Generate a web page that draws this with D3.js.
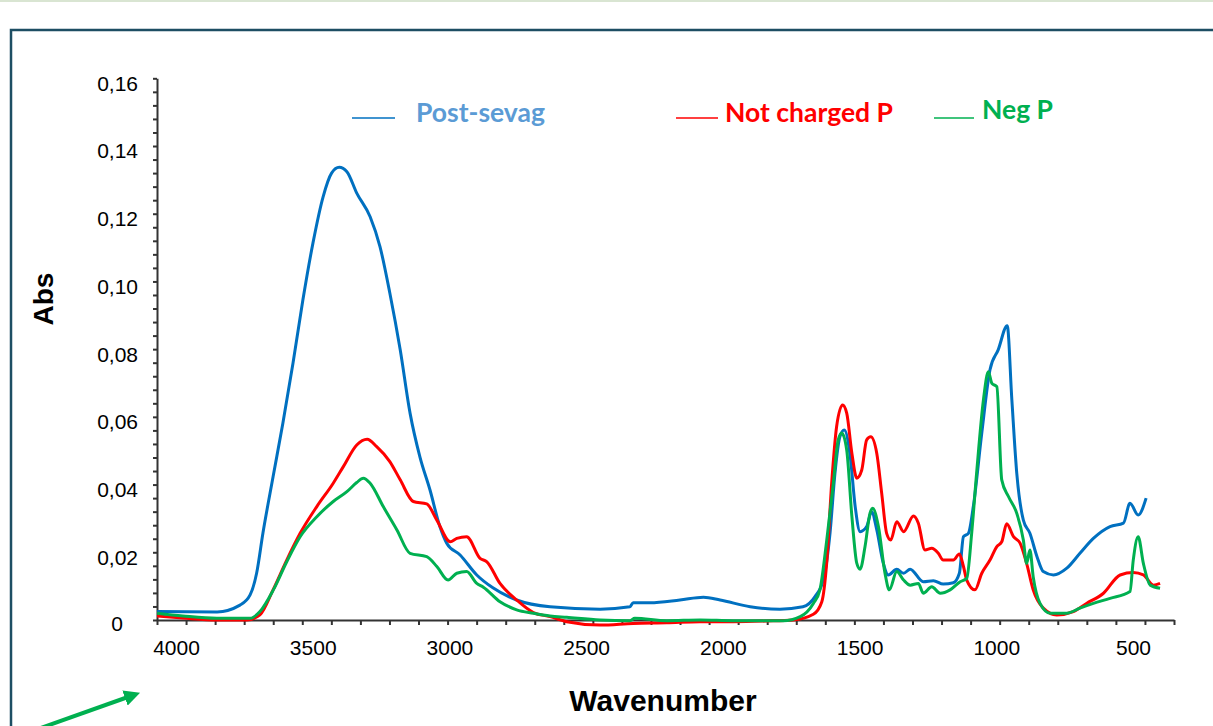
<!DOCTYPE html>
<html>
<head>
<meta charset="utf-8">
<script src="https://cdn.jsdelivr.net/npm/d3@7"></script>
<style>
  body { margin: 0; background: #fff; }
  svg { display: block; }
</style>
</head>
<body>
<div id="chart"></div>
<script>
// spectra (wavenumber, absorbance)
var postWn = [4069,3850,3766,3729,3705,3682,3645,3609,3572,3536,3499,3462,3431,3403,3375,3339,3290,3254,3218,3180,3144,3108,3071,3035,3010,2961,2900,2841,2754,2632,2449,2340,2328,2266,2157,2071,2010,1900,1791,1707,1663,1632,1608,1590,1572,1556,1534,1516,1498,1474,1456,1437,1413,1395,1364,1339,1315,1267,1230,1194,1157,1135,1120,1102,1084,1053,1023,993,960,943,925,901,877,851,828,791,742,694,645,584,535,511,481,452];
var postAbs = [0.0025,0.0024,0.0044,0.0074,0.0139,0.0257,0.0423,0.0582,0.0759,0.0945,0.1114,0.125,0.132,0.1337,0.1324,0.1261,0.1191,0.1103,0.0966,0.0798,0.0611,0.0482,0.0384,0.0276,0.0227,0.0192,0.0133,0.0095,0.0059,0.0039,0.0032,0.0039,0.0051,0.0051,0.0059,0.0067,0.0059,0.0039,0.0032,0.0039,0.0069,0.012,0.0257,0.0433,0.0541,0.0561,0.0482,0.0335,0.0261,0.0276,0.032,0.0266,0.0167,0.0133,0.015,0.0138,0.015,0.0113,0.0116,0.0106,0.011,0.0138,0.0246,0.0256,0.0335,0.0552,0.0739,0.0798,0.0869,0.065,0.0433,0.0295,0.0256,0.0187,0.0143,0.0133,0.0153,0.0197,0.0241,0.0276,0.0286,0.0345,0.031,0.036];

var notWn = [4069,3975,3851,3741,3693,3645,3595,3546,3485,3425,3388,3339,3301,3266,3218,3180,3132,3083,3046,2997,2973,2937,2888,2863,2815,2754,2693,2632,2571,2449,2328,2205,2083,1962,1840,1743,1669,1638,1620,1602,1584,1562,1547,1528,1510,1492,1474,1459,1437,1419,1401,1386,1364,1339,1303,1285,1261,1236,1212,1194,1157,1135,1120,1108,1078,1053,1023,998,980,962,937,913,889,865,828,779,718,670,608,547,499,462,425,401];
var notAbs = [0.0012,0.0006,0,0,0.0015,0.0089,0.0177,0.0256,0.0335,0.0404,0.0453,0.0517,0.0534,0.0512,0.0468,0.0414,0.035,0.0343,0.0295,0.0231,0.0241,0.0246,0.0182,0.0172,0.0108,0.0059,0.0022,0.001,-0.0005,-0.0015,-0.001,-0.0008,-0.0005,-0.0005,-0.0003,0,0.0017,0.0054,0.017,0.0404,0.0571,0.0635,0.0611,0.0492,0.0419,0.0443,0.0532,0.0541,0.0492,0.0374,0.0256,0.0236,0.029,0.0261,0.0307,0.0286,0.0207,0.0212,0.0197,0.0177,0.0177,0.0195,0.0158,0.0118,0.0089,0.0138,0.0177,0.0217,0.0231,0.0284,0.0246,0.0227,0.0167,0.0089,0.0035,0.0015,0.0025,0.0049,0.0079,0.0133,0.014,0.0133,0.0103,0.0108];

var negWn = [4069,3975,3851,3729,3693,3644,3595,3546,3485,3425,3375,3339,3315,3290,3242,3192,3144,3083,3046,3005,2973,2937,2900,2876,2815,2754,2693,2632,2571,2449,2340,2322,2205,2083,1962,1779,1717,1669,1645,1620,1596,1578,1565,1547,1528,1510,1498,1480,1462,1452,1431,1407,1391,1364,1339,1315,1285,1267,1236,1205,1169,1132,1108,1090,1072,1047,1029,1016,998,980,955,925,901,889,877,865,840,803,742,694,645,584,511,499,481,462,437,401];
var negAbs = [0.002,0.0012,0.0005,0.0005,0.0025,0.0089,0.0172,0.0246,0.0305,0.035,0.0379,0.0406,0.0419,0.0404,0.0335,0.0266,0.0197,0.0187,0.0158,0.0118,0.0138,0.0143,0.0108,0.0097,0.0054,0.003,0.002,0.0012,0.0008,0,-0.0002,0.0005,-0.0002,0,-0.0002,-0.0002,0.001,0.0049,0.0089,0.0236,0.0404,0.0532,0.0552,0.0502,0.0305,0.0167,0.015,0.0217,0.0315,0.033,0.0276,0.0138,0.0089,0.0143,0.0118,0.0103,0.0108,0.0079,0.0098,0.0079,0.0089,0.0113,0.0123,0.0256,0.0433,0.065,0.0733,0.0699,0.0689,0.0414,0.0364,0.0315,0.0236,0.0167,0.0207,0.0128,0.0049,0.002,0.002,0.0035,0.0049,0.0064,0.0084,0.0177,0.0246,0.0167,0.0103,0.0094];

var seriesNames = ["Post-sevag", "Not charged P", "Neg P"];
var seriesColors = ["#0070C0", "#FF0000", "#00B050"];
var legendColors = ["#5B9BD5", "#FF0000", "#00B050"];

var xLabels = [4000, 3500, 3000, 2500, 2000, 1500, 1000, 500];
var yLabels = [0, 0.02, 0.04, 0.06, 0.08, 0.10, 0.12, 0.14, 0.16];
var X_MAX = 4069.5, X_MIN = 350;

var width = 1213, height = 726;

var svg = d3.select("#chart").append("svg")
	.attr("width", width)
	.attr("height", height);

// page frame
svg.append("rect").attr("x", 0).attr("y", 0).attr("width", width).attr("height", 2).style("fill", "#d9e5d2");
svg.append("path")
	.attr("d", "M1230,30 H11 V740")
	.style("fill", "none").style("stroke", "#1d4e63").style("stroke-width", 2.5);

var x = d3.scaleLinear().domain([X_MAX, X_MIN]).range([157, 1174]);
var y = d3.scaleLinear().domain([0, 0.16]).range([620, 78.3]);

// tick marks, evenly along both axes
var xMinor = d3.range(36).map(function(i) { return X_MAX - i * (X_MAX - X_MIN) / 35; });
var yMinor = d3.range(41).map(function(i) { return i * 0.004; });

var gx = svg.append("g").attr("transform", "translate(0,620)")
	.call(d3.axisBottom(x).tickValues(xMinor).tickSize(5).tickFormat("").tickSizeOuter(0));
var gxl = svg.append("g").attr("transform", "translate(0,620)")
	.call(d3.axisBottom(x).tickValues(xLabels).tickSize(0).tickFormat(d3.format("d")));
gxl.select(".domain").remove();
gxl.selectAll("text")
	.attr("y", 20).attr("dy", "0.71em")
	.style("font-family", "'Liberation Sans', Arial, sans-serif")
	.style("font-size", "21px").style("fill", "#000");

var gy = svg.append("g").attr("transform", "translate(157,0)")
	.call(d3.axisLeft(y).tickValues(yMinor).tickSize(4).tickFormat("").tickSizeOuter(0));
var gyl = svg.append("g").attr("transform", "translate(157,0)")
	.call(d3.axisLeft(y).tickValues(yLabels).tickSize(0).tickFormat(function(d) {
		return d === 0 ? "0" : d3.format(".2f")(d).replace(".", ",");
	}));
gyl.select(".domain").remove();
gyl.selectAll("text")
	.attr("x", -19).attr("dy", "0.57em")
	.style("font-family", "'Liberation Sans', Arial, sans-serif")
	.style("font-size", "21px").style("fill", "#000");
gyl.selectAll("text").filter(function(d) { return d === 0; })
	.attr("x", -34).attr("dy", "0.48em");

[gx, gy].forEach(function(g) {
	g.selectAll("path, line").style("stroke", "#333").style("stroke-width", 2);
});

// spectra
var line = d3.line()
	.x(function(d) { return x(d[0]); })
	.y(function(d) { return y(d[1]); })
	.curve(d3.curveMonotoneX);

var spectra = [
	d3.zip(postWn, postAbs),
	d3.zip(notWn, notAbs),
	d3.zip(negWn, negAbs)
];

// green last so it sits on top like the picture
[0, 1, 2].forEach(function(i) {
	svg.append("path")
		.datum(spectra[i])
		.attr("d", line)
		.style("fill", "none")
		.style("stroke", seriesColors[i])
		.style("stroke-width", 3)
		.style("stroke-linejoin", "round");
});

// legend
var legendPos = [
	{ lx: 352, lw: 43, tx: 416, ty: 122 },
	{ lx: 676, lw: 42, tx: 725, ty: 122 },
	{ lx: 934, lw: 40, tx: 982, ty: 119 }
];
legendPos.forEach(function(p, i) {
	svg.append("line")
		.attr("x1", p.lx).attr("x2", p.lx + p.lw)
		.attr("y1", 118).attr("y2", 118)
		.style("stroke", seriesColors[i]).style("stroke-width", 1.5);
	svg.append("text")
		.attr("x", p.tx).attr("y", p.ty)
		.style("font-family", "Lato, 'Open Sans', sans-serif")
		.style("font-weight", "bold")
		.style("font-size", "26.5px")
		.style("fill", legendColors[i])
		.text(seriesNames[i]);
});

// axis titles
svg.append("text")
	.attr("x", 663).attr("y", 711)
	.attr("text-anchor", "middle")
	.style("font-family", "'Liberation Sans', Arial, sans-serif")
	.style("font-weight", "bold").style("font-size", "30px")
	.text("Wavenumber");

svg.append("text")
	.attr("transform", "translate(53,299) rotate(-90)")
	.attr("text-anchor", "middle")
	.style("font-family", "'Liberation Sans', Arial, sans-serif")
	.style("font-weight", "bold").style("font-size", "28px")
	.text("Abs");

// green pointer arrow, bottom left
svg.append("defs").append("marker")
	.attr("id", "head")
	.attr("viewBox", "0 0 10 10")
	.attr("refX", 2).attr("refY", 5)
	.attr("markerWidth", 4).attr("markerHeight", 4)
	.attr("orient", "auto")
	.append("path").attr("d", "M0,0 L10,5 L0,10 z").style("fill", "#00B050");
svg.append("line")
	.attr("x1", 38).attr("y1", 729)
	.attr("x2", 128).attr("y2", 697)
	.style("stroke", "#00B050").style("stroke-width", 4)
	.attr("marker-end", "url(#head)");
</script>
</body>
</html>
